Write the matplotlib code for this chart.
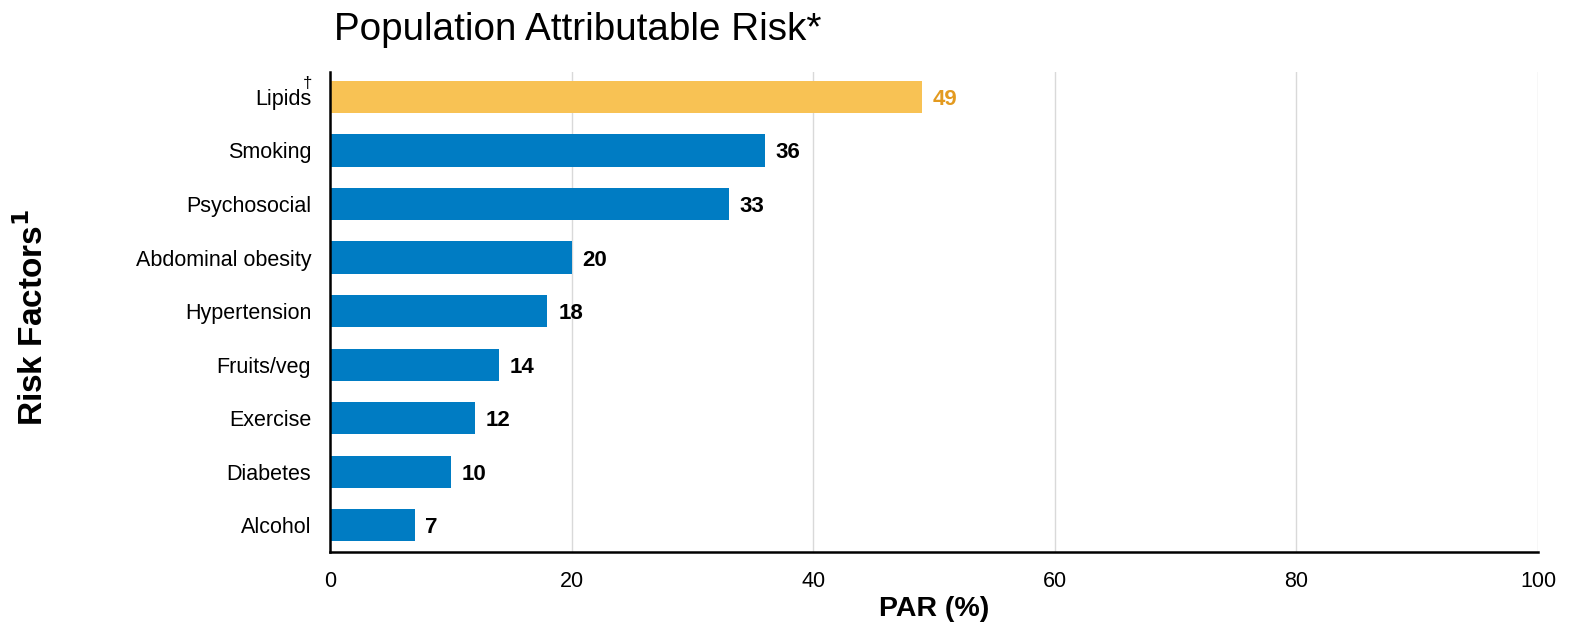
import matplotlib
matplotlib.use("Agg")
import matplotlib.pyplot as plt

plt.rcParams['font.family'] = ['Liberation Sans', 'DejaVu Sans']

factors = ['Lipids', 'Smoking', 'Psychosocial', 'Abdominal obesity', 'Hypertension',
           'Fruits/veg', 'Exercise', 'Diabetes', 'Alcohol']
par = [49, 36, 33, 20, 18, 14, 12, 10, 7]
bar_colors = ['#F8C254'] + ['#007CC3'] * 8
label_colors = ['#E39A1F'] + ['#000000'] * 8

fig = plt.figure(figsize=(15.75, 6.3), dpi=100)
ax = fig.add_axes([0.2095, 0.124, 0.767, 0.762])

y = list(range(len(factors)))
ax.barh(y, par, height=0.6, color=bar_colors, zorder=3)
for yi, v, c in zip(y, par, label_colors):
    ax.text(v + 0.9, yi, str(v), va='center_baseline', ha='left', fontsize=16,
            fontweight='bold', color=c)

ax.set_xlim(0, 100)
ax.set_ylim(8.5, -0.47)
ax.set_xticks([0, 20, 40, 60, 80, 100])
ax.set_yticks(y)
ax.set_yticklabels(factors)
ax.tick_params(axis='both', length=0, labelsize=15.5)
ax.tick_params(axis='x', pad=14)
ax.tick_params(axis='y', pad=13.5)
ax.grid(axis='x', color='#D9D9D9', linewidth=1, zorder=0)

# dagger sits over the end of the "Lipids" label
ax.annotate('\u2020', xy=(0, 0), xycoords=('axes fraction', 'data'),
            xytext=(-16, 4.5), textcoords='offset points', ha='center', va='bottom',
            fontsize=12)

for s in ['top', 'right']:
    ax.spines[s].set_visible(False)
for s in ['left', 'bottom']:
    ax.spines[s].set_linewidth(1.8)
    ax.spines[s].set_color('black')
    ax.spines[s].set_zorder(4)

ax.set_xlabel('PAR (%)', fontsize=20.5, fontweight='bold', labelpad=3)
fig.text(0.021, 0.497, 'Risk Factors$^{\\mathbf{1}}$', rotation=90, va='center', ha='center',
         fontsize=24, fontweight='bold')
fig.text(0.212, 0.952, 'Population Attributable Risk*', fontsize=27.8, ha='left', va='center')

fig.savefig('out.png', dpi=100)
